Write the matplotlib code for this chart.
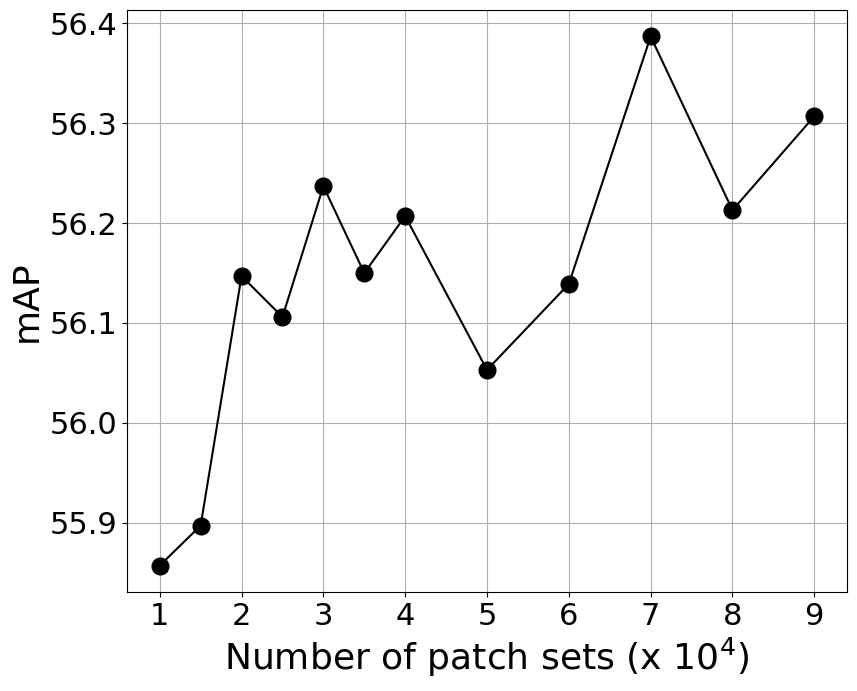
import numpy as np
import matplotlib.pyplot as plt

# patch set counts (x 10^4) and mAP values
patch_sets = [1, 1.5, 2, 2.5, 3, 3.5, 4, 5, 6, 7, 8, 9]
map_values = [55.857, 55.897, 56.147, 56.106, 56.237, 56.150,
              56.207, 56.053, 56.139, 56.387, 56.213, 56.307]
xticks = [1, 2, 3, 4, 5, 6, 7, 8, 9]

fig = plt.figure(figsize=(8.57, 6.91), dpi=100)
ax = fig.add_axes([127 / 857, 1 - 592 / 691, 720 / 857, 582 / 691])
ax.plot(patch_sets, map_values, color='black', linewidth=1.5,
        marker='o', markersize=12, zorder=3)
ax.set_xticks(xticks)
ax.set_yticks([55.9, 56.0, 56.1, 56.2, 56.3, 56.4])
ax.tick_params(labelsize=22)
ax.set_xlabel('Number of patch sets (x $10^4$)', fontsize=26)
ax.set_ylabel('mAP', fontsize=26)
ax.grid(True)
fig.savefig('out.png', dpi=100)
